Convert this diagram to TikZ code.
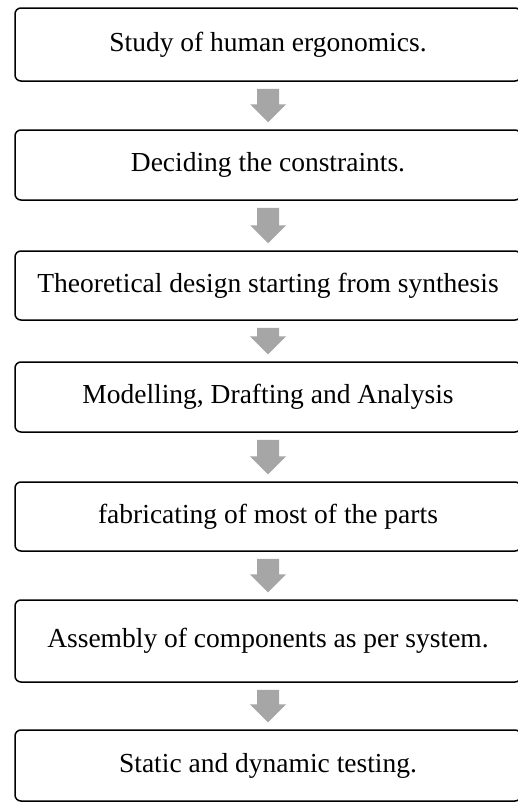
\documentclass[tikz,border=0pt]{standalone}
\usepackage{fontspec}
\setmainfont{Liberation Serif}
\definecolor{arrowgray}{HTML}{A6A6A6}
\tikzset{
    stepbox/.style={draw, line width=1.5pt, rounded corners=6pt,
        minimum width=506pt, minimum height=70pt, inner sep=0pt,
        font=\fontsize{27.5}{33}\selectfont},
    flowarrow/.style={fill=arrowgray, draw=none}
}
\begin{document}
\begin{tikzpicture}[x=1pt,y=1pt]
            \useasboundingbox (0,0) rectangle (517,-803);
            \node[stepbox, minimum height=73pt] (s1) at (268,-44.5) {Study of human ergonomics.};
            \node[stepbox] (s2) at (268,-165) {Deciding the constraints.};
            \node[stepbox, minimum height=69pt] (s3) at (268,-285.5) {Theoretical design starting from synthesis};
            \node[stepbox] (s4) at (268,-397) {Modelling, Drafting and Analysis};
            \node[stepbox, minimum height=69pt] (s5) at (268,-516.5) {fabricating of most of the parts};
            \node[stepbox, minimum height=82pt] (s6) at (268,-641) {Assembly of components as per system.};
            \node[stepbox, minimum height=71pt] (s7) at (268,-765.5) {Static and dynamic testing.};
            % block arrows between the steps
            \foreach \a/\b in {s1/s2,s2/s3,s3/s4,s4/s5,s5/s6,s6/s7}
                \path[flowarrow] ([xshift=-11pt,yshift=-7pt]\a.south)
                    -- ([xshift=11pt,yshift=-7pt]\a.south)
                    -- ([xshift=11pt,yshift=25pt]\b.north) -- ++(7,0)
                    -- ([yshift=7pt]\b.north) -- ++(-18,18) -- ++(7,0) -- cycle;
        \end{tikzpicture}
\end{document}
